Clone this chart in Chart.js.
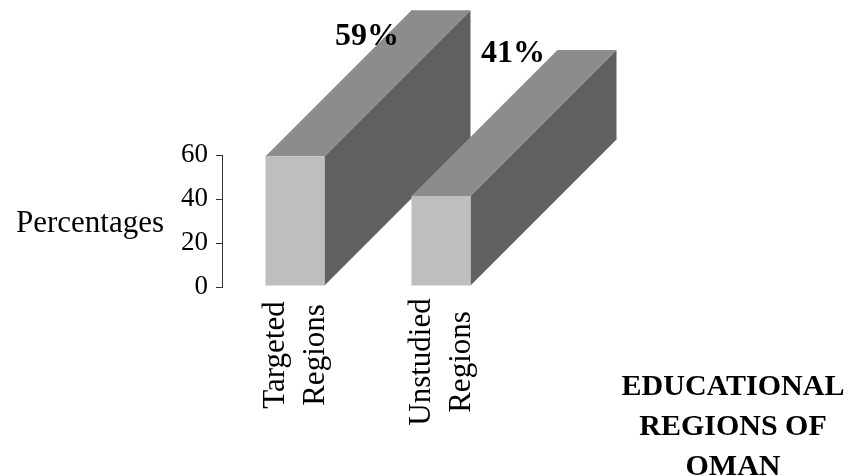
<!DOCTYPE html>
<html>
<head>
<meta charset="utf-8">
<script src="https://cdn.jsdelivr.net/npm/chart.js@4/dist/chart.umd.min.js"></script>
<style>
  html, body { margin: 0; padding: 0; background: #ffffff; }
  canvas { display: block; }
</style>
</head>
<body>
<canvas id="chart" width="855" height="476"></canvas>
<script>
const categories = [["Targeted", "Regions"], ["Unstudied", "Regions"]];
const percentages = [59, 41];
const valueLabels = ["59%", "41%"];
const yTicks = [0, 20, 40, 60];
const yTitle = "Percentages";
const xTitle = ["EDUCATIONAL", "REGIONS OF", "OMAN"];

const SERIF = '"Liberation Serif", "Times New Roman", serif';
const FRONT = "#bebebe", TOP = "#8c8c8c", SIDE = "#606060", INK = "#000000";
const DEPTH = 146;      // oblique offset of the back face, in pixels
const LIFT = 0.9;       // bars sit slightly above the axis zero line

function poly(ctx, pts, fill) {
  ctx.beginPath();
  pts.forEach((p, i) => i ? ctx.lineTo(p[0], p[1]) : ctx.moveTo(p[0], p[1]));
  ctx.closePath();
  ctx.fillStyle = fill;
  ctx.fill();
}

// Extrudes each bar backwards, then lifts the drawing context for the front faces.
const extrude = {
  id: "extrude",
  beforeDatasetDraw(chart, args) {
    const ctx = chart.ctx;
    ctx.save();
    ctx.translate(0, -LIFT);
    args.meta.data.forEach(bar => {
      const half = bar.width / 2, l = bar.x - half, r = bar.x + half;
      poly(ctx, [[r, bar.y], [r + DEPTH, bar.y - DEPTH], [r + DEPTH, bar.base - DEPTH], [r, bar.base]], SIDE);
      poly(ctx, [[l, bar.y], [l + DEPTH, bar.y - DEPTH], [r + DEPTH, bar.y - DEPTH], [r, bar.y]], TOP);
    });
  },
  afterDatasetDraw(chart) {
    chart.ctx.restore();
  }
};

// Horizontal axis title, rotated category names and bold value labels.
const annotations = {
  id: "annotations",
  afterDraw(chart) {
    const ctx = chart.ctx, meta = chart.getDatasetMeta(0), yScale = chart.scales.y;
    ctx.save();
    ctx.fillStyle = INK;

    ctx.font = "31px " + SERIF;
    ctx.textAlign = "center";
    ctx.textBaseline = "middle";
    ctx.fillText(yTitle, 90, yScale.getPixelForValue(30) + 3);

    const labelCentreY = [355, 362];
    categories.forEach((lines, i) => {
      const x = chart.scales.x.getPixelForTick(i);
      lines.forEach((line, j) => {
        ctx.save();
        ctx.translate(x + (j === 0 ? -19.5 : 21), labelCentreY[i]);
        ctx.rotate(-Math.PI / 2);
        ctx.fillText(line, 0, 0);
        ctx.restore();
      });
    });

    ctx.font = "bold 32px " + SERIF;
    ctx.textBaseline = "alphabetic";
    const rise = [112, 135];
    valueLabels.forEach((text, i) => {
      const bar = meta.data[i];
      ctx.fillText(text, bar.x + 72, bar.y - LIFT - rise[i] + 1);
    });

    ctx.font = "bold 30px " + SERIF;
    xTitle.forEach((line, i) => ctx.fillText(line, 733, 395 + i * 40));
    ctx.restore();
  }
};

new Chart(document.getElementById("chart"), {
  type: "bar",
  data: {
    labels: categories,
    datasets: [{
      data: percentages,
      backgroundColor: FRONT,
      borderWidth: 0,
      categoryPercentage: 59 / 146,
      barPercentage: 1
    }]
  },
  plugins: [extrude, annotations],
  options: {
    responsive: false,
    animation: false,
    layout: { padding: { left: 0, top: 155, right: 341, bottom: 189 } },
    plugins: { legend: { display: false }, tooltip: { enabled: false } },
    scales: {
      x: {
        ticks: { display: false },
        grid: { display: false },
        border: { display: false },
        afterFit(scale) { scale.height = 0; }
      },
      y: {
        min: 0,
        max: 60,
        afterFit(scale) { scale.width = 222; },
        afterBuildTicks(scale) { scale.ticks = yTicks.map(value => ({ value })); },
        ticks: { color: INK, padding: 8, font: { family: SERIF, size: 27 } },
        grid: { drawOnChartArea: false, drawTicks: true, tickLength: 6, color: "#333333" },
        border: { display: true, color: "#333333", width: 1 }
      }
    }
  }
});
</script>
</body>
</html>
